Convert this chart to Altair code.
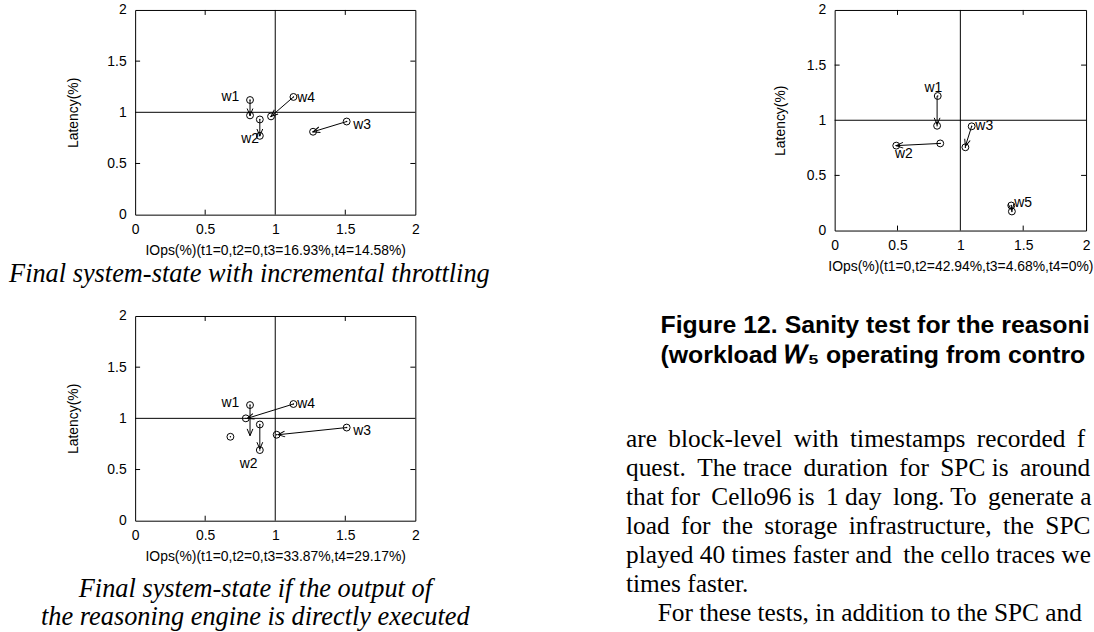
import math
import altair as alt
import pandas as pd

SANS = "Liberation Sans"
SERIF = "Liberation Serif"
INK = "black"
NB = "\u00a0"
THIN = "\u2009"
ZW = "\u200b"   # keeps leading no-break spaces from being trimmed

# ---------------- panel (a): incremental throttling ----------------
a_cx = [0.82, 0.82, 0.89, 0.89, 1.51, 1.27, 1.13, 0.97]
a_cy = [1.12, 0.97, 0.93, 0.77, 0.91, 0.81, 1.15, 0.96]
a_from_x = [0.82, 0.89, 1.51, 1.13]
a_from_y = [1.12, 0.93, 0.91, 1.15]
a_to_x = [0.82, 0.89, 1.27, 0.97]
a_to_y = [0.97, 0.77, 0.81, 0.96]
a_names = ["w1", "w2", "w3", "w4"]
a_lab_x = [0.68, 0.82, 1.62, 1.22]
a_lab_y = [1.15, 0.74, 0.88, 1.14]
a_xtitle = "IOps(%)(t1=0,t2=0,t3=16.93%,t4=14.58%)"
a_caption = "Final system-state with incremental throttling"

# ---------------- panel (b): reasoning engine output executed directly ----------------
b_cx = [0.82, 0.79, 0.89, 0.68, 0.89, 1.01, 1.13, 1.51]
b_cy = [1.13, 1.00, 0.94, 0.82, 0.69, 0.84, 1.14, 0.91]
b_from_x = [0.82, 0.89, 1.13, 1.51]
b_from_y = [1.13, 0.94, 1.14, 0.91]
b_to_x = [0.82, 0.89, 0.80, 1.02]
b_to_y = [0.83, 0.70, 1.00, 0.84]
b_names = ["w1", "w2", "w3", "w4"]
b_lab_x = [0.68, 0.81, 1.62, 1.22]
b_lab_y = [1.15, 0.55, 0.88, 1.14]
b_xtitle = "IOps(%)(t1=0,t2=0,t3=33.87%,t4=29.17%)"
b_caption = ["Final system-state if the output of",
             "the reasoning engine is directly executed"]

# ---------------- panel (c): sanity test with W5 ----------------
c_cx = [0.82, 0.815, 0.84, 0.49, 1.09, 1.04, 1.405, 1.41]
c_cy = [1.22, 0.95, 0.79, 0.77, 0.945, 0.755, 0.227, 0.173]
c_from_x = [0.815, 0.84, 1.09, 1.405]
c_from_y = [1.22, 0.79, 0.945, 0.227]
c_to_x = [0.815, 0.49, 1.04, 1.41]
c_to_y = [0.96, 0.77, 0.765, 0.18]
c_names = ["w1", "w2", "w3", "w5"]
c_lab_x = [0.785, 0.55, 1.19, 1.50]
c_lab_y = [1.29, 0.69, 0.945, 0.25]
c_xtitle = "IOps(%)(t1=0,t2=42.94%,t3=4.68%,t4=0%)"

fig_caption = ["Figure 12. Sanity test for the reasoni",
               "(workload 𝑊₅ operating from contro"]
body_lines = [
    "are block-level with timestamps recorded f",
    "quest. The trace duration for SPC is around",
    "that for Cello96 is 1 day long. To generate a",
    "load for the storage infrastructure, the SPC",
    "played 40 times faster and the cello traces we",
    "times faster.",
    "For these tests, in addition to the SPC and",
]
# extra thin spaces per line (justified column) and paragraph indents
body_stretch = [5, 5, 4, 6, 1, 0, 0]
body_indent = [0, 0, 0, 0, 0, 0, 5]
caption_indent = 5


def stretch(line, extra, indent):
    words = line.split(" ")
    gaps = len(words) - 1
    pads = [0] * max(gaps, 0)
    for i in range(extra):
        pads[round((i + 0.5) * gaps / extra - 0.5) % gaps] += 1
    out = words[0]
    for i, w in enumerate(words[1:]):
        out += " " + THIN * pads[i] + w
    return (ZW + NB * indent + out) if indent else out


fig_lines = [stretch(s, 0, caption_indent) for s in fig_caption]
body_text = [stretch(s, e, k) for s, e, k in zip(body_lines, body_stretch, body_indent)]

TICK_VALUES = [0, 0.5, 1, 1.5, 2]
INNER_TICKS = [0.5, 1.5]
TICK_LEN = 5          # inward tick length, px
HEAD = "M-1,-0.42L0,0L-1,0.42"   # open arrow head pointing along +x


def panel(cx, cy, fx, fy, tx, ty, names, lx, ly, xtitle, w, h,
          ytitle_pad, title):
    kx, ky = w / 2.0, h / 2.0   # px per data unit
    circles = pd.DataFrame({"x": cx, "y": cy})
    arrows = pd.DataFrame({"x": fx, "y": fy, "x2": tx, "y2": ty})
    arrows["angle"] = [
        math.degrees(math.atan2(-(b1 - b0) * ky, (a1 - a0) * kx)) % 360
        for a0, b0, a1, b1 in zip(fx, fy, tx, ty)
    ]
    labels = pd.DataFrame({"name": names, "x": lx, "y": ly})

    ux, uy = TICK_LEN / kx, TICK_LEN / ky
    rows = []
    for t in INNER_TICKS:
        rows += [dict(x=t, y=0, x2=t, y2=uy), dict(x=t, y=2, x2=t, y2=2 - uy),
                 dict(x=0, y=t, x2=ux, y2=t), dict(x=2, y=t, x2=2 - ux, y2=t)]
    ticks = pd.DataFrame(rows)

    xs = alt.Scale(domain=[0, 2], nice=False, zero=False)
    ys = alt.Scale(domain=[0, 2], nice=False, zero=False)
    xaxis = alt.Axis(values=TICK_VALUES, format="~g", title=xtitle,
                     ticks=False, domain=False, grid=False,
                     labelFont=SANS, labelFontSize=14, labelColor=INK,
                     labelPadding=8, labelFlush=False,
                     titleFont=SANS, titleFontSize=14, titleFontWeight="normal",
                     titleColor=INK, titlePadding=7)
    yaxis = alt.Axis(values=TICK_VALUES, format="~g", title="Latency(%)",
                     ticks=False, domain=False, grid=False,
                     labelFont=SANS, labelFontSize=14, labelColor=INK,
                     labelPadding=9, labelFlush=False,
                     titleFont=SANS, titleFontSize=14, titleFontWeight="normal",
                     titleColor=INK, titlePadding=ytitle_pad)

    def X(f):
        return alt.X(f, type="quantitative", scale=xs, axis=xaxis)

    def Y(f):
        return alt.Y(f, type="quantitative", scale=ys, axis=yaxis)

    one = pd.DataFrame({"v": [1]})
    vline = alt.Chart(one).mark_rule(color=INK, strokeWidth=1).encode(x=X("v"))
    hline = alt.Chart(one).mark_rule(color=INK, strokeWidth=1).encode(y=Y("v"))
    tick_marks = alt.Chart(ticks).mark_rule(color=INK, strokeWidth=1).encode(
        x=X("x"), y=Y("y"), x2="x2", y2="y2")
    shafts = alt.Chart(arrows).mark_rule(color=INK, strokeWidth=1).encode(
        x=X("x"), y=Y("y"), x2="x2", y2="y2")
    heads = alt.Chart(arrows).mark_point(
        shape=HEAD, filled=False, size=190, stroke=INK, strokeWidth=1,
        opacity=1).encode(
        x=X("x2"), y=Y("y2"), angle=alt.Angle("angle:Q", scale=None))
    rings = alt.Chart(circles).mark_point(
        shape="circle", filled=False, size=48, stroke=INK, strokeWidth=1,
        opacity=1).encode(x=X("x"), y=Y("y"))
    dots = alt.Chart(circles).mark_point(
        shape="circle", filled=True, size=2, color=INK, opacity=1).encode(
        x=X("x"), y=Y("y"))
    texts = alt.Chart(labels).mark_text(
        font=SANS, fontSize=14, color=INK, align="center",
        baseline="middle").encode(x=X("x"), y=Y("y"), text="name:N")

    return alt.layer(vline, hline, tick_marks, shafts, heads, rings, dots,
                     texts).properties(width=w, height=h, title=title)


cap_style = dict(orient="bottom", anchor="middle", frame="group",
                 font=SERIF, fontStyle="italic", fontWeight="normal",
                 fontSize=26.5, color=INK, lineHeight=28)

p1 = panel(a_cx, a_cy, a_from_x, a_from_y, a_to_x, a_to_y, a_names,
           a_lab_x, a_lab_y, a_xtitle, 282, 206, 27,
           alt.TitleParams(text=a_caption, dx=-26, offset=4, **cap_style))
p2 = panel(b_cx, b_cy, b_from_x, b_from_y, b_to_x, b_to_y, b_names,
           b_lab_x, b_lab_y, b_xtitle, 282, 206, 27,
           alt.TitleParams(text=b_caption, dx=-20, offset=13, **cap_style))
p3 = panel(c_cx, c_cy, c_from_x, c_from_y, c_to_x, c_to_y, c_names,
           c_lab_x, c_lab_y, c_xtitle, 253, 222, 19,
           alt.TitleParams(text=fig_lines, subtitle=body_text,
                           orient="bottom", anchor="start", frame="group",
                           dx=-210, offset=40,
                           font=SANS, fontWeight="bold", fontSize=25,
                           lineHeight=30, color=INK,
                           subtitleFont=SERIF, subtitleFontSize=25.5,
                           subtitleFontWeight="normal",
                           subtitleLineHeight=29.2, subtitleColor=INK,
                           subtitlePadding=60))

left = alt.vconcat(p1, p2, spacing=102, bounds="flush")

chart = alt.hconcat(left, p3, spacing=135).properties(
    padding={"left": 8, "top": 0, "right": 0, "bottom": 0},
    background="white",
).configure_view(stroke=INK, strokeWidth=1)

chart.save("out.html", embed_options={"renderer": "svg", "actions": False})
